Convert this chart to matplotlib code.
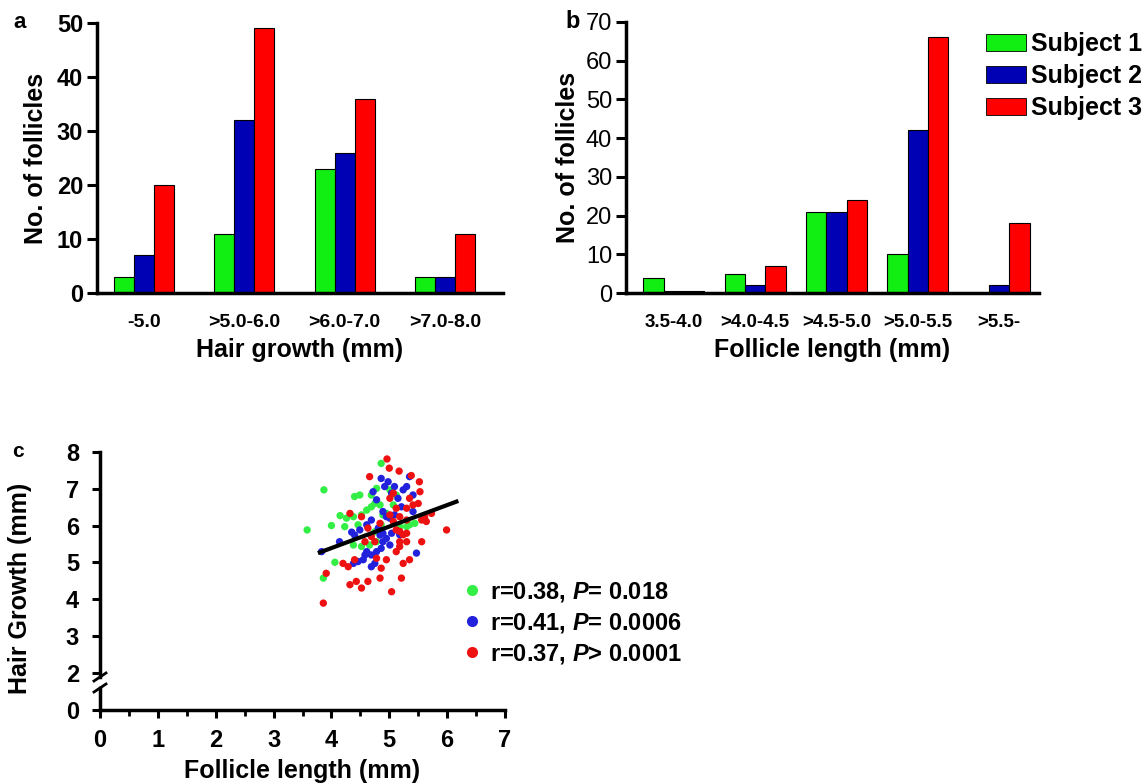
import numpy as np
import matplotlib
matplotlib.use("Agg")
import matplotlib.pyplot as plt
from matplotlib.patches import Patch
from matplotlib.lines import Line2D
from matplotlib.ticker import MultipleLocator

plt.rcParams['font.family'] = ['Liberation Sans', 'DejaVu Sans']
plt.rcParams['mathtext.fontset'] = 'custom'
plt.rcParams['mathtext.rm'] = 'Liberation Sans:bold'
plt.rcParams['mathtext.it'] = 'Liberation Sans:bold:italic'

# ---- data ----
subjects = ['Subject 1', 'Subject 2', 'Subject 3']
bar_colors = ['#11ee11', '#0000b4', '#ff0000']
dot_colors = ['#33ee44', '#2222dd', '#ee1111']

growth_bins = ['-5.0', '>5.0-6.0', '>6.0-7.0', '>7.0-8.0']
growth_s1 = [3, 11, 23, 3]
growth_s2 = [7, 32, 26, 3]
growth_s3 = [20, 49, 36, 11]

length_bins = ['3.5-4.0', '>4.0-4.5', '>4.5-5.0', '>5.0-5.5', '>5.5-']
length_s1 = [4, 5, 21, 10, 0]
length_s2 = [0.5, 2, 21, 42, 2]
length_s3 = [0.5, 7, 24, 66, 18]

# scatter points (follicle length, hair growth)
s1_x = [3.87, 3.58, 4.00, 4.15, 4.23, 4.06, 3.86, 4.40, 4.49, 4.38, 4.52, 4.61,
        4.69, 4.78, 4.86, 4.75, 4.69, 4.84, 4.89, 4.95, 5.01, 4.86, 4.78, 4.66,
        4.52, 4.38, 5.18, 5.30, 5.35, 5.44, 5.12, 5.07, 4.75, 4.26, 4.46]
s1_y = [6.97, 5.88, 6.00, 6.27, 5.97, 5.00, 4.57, 6.79, 6.83, 6.24, 6.29, 6.42,
        6.83, 7.01, 7.69, 6.60, 6.51, 6.56, 6.29, 6.33, 6.97, 6.02, 5.56, 5.47,
        5.43, 5.47, 5.97, 5.97, 6.02, 6.06, 6.83, 6.56, 5.83, 6.20, 6.02]
s2_x = [3.83, 4.14, 4.35, 4.49, 4.40, 4.61, 4.69, 4.72, 4.78, 4.86, 4.92, 4.98,
        5.04, 5.09, 5.15, 5.21, 5.24, 5.30, 5.35, 5.41, 4.89, 4.95, 5.01, 5.09,
        4.81, 4.84, 4.89, 4.95, 5.01, 4.86, 4.78, 4.69, 4.61, 4.55, 4.46, 4.38,
        4.69, 4.75, 4.89, 5.04, 5.18, 5.47, 5.41, 4.58]
s2_y = [5.29, 5.56, 5.82, 5.88, 5.74, 6.02, 6.15, 6.92, 6.70, 7.28, 7.06, 7.19,
        6.88, 7.06, 6.74, 6.51, 6.97, 7.06, 7.33, 6.83, 6.38, 6.24, 6.20, 6.29,
        5.93, 5.74, 5.56, 5.65, 5.47, 5.38, 5.29, 5.20, 5.29, 5.07, 5.02, 4.97,
        4.88, 4.97, 5.79, 5.79, 5.75, 5.25, 6.38, 5.20]
s3_x = [4.96, 5.00, 5.17, 5.38, 5.52, 4.66, 4.32, 4.20, 4.29, 4.40, 4.52, 4.63,
        4.69, 4.75, 4.84, 5.01, 5.07, 5.12, 5.18, 5.24, 5.30, 5.30, 5.18, 5.18,
        5.12, 4.95, 4.86, 4.84, 4.78, 4.63, 4.52, 4.32, 4.43, 3.86, 3.91, 5.04,
        5.21, 5.18, 5.30, 5.41, 5.50, 5.56, 5.61, 5.64, 5.73, 5.99, 5.56, 5.35,
        5.24, 5.07, 5.01, 5.53, 5.35, 5.12, 5.30, 4.58]
s3_y = [7.81, 7.56, 7.48, 7.36, 7.19, 7.33, 6.33, 4.97, 4.88, 5.07, 6.24, 5.93,
        5.70, 5.56, 6.06, 6.29, 6.11, 5.88, 5.84, 5.75, 5.79, 5.56, 5.56, 5.43,
        5.29, 5.07, 4.84, 4.57, 5.11, 4.48, 4.30, 4.39, 4.48, 3.89, 4.70, 4.20,
        4.57, 6.24, 6.15, 6.56, 6.60, 6.15, 6.24, 6.11, 6.33, 5.88, 5.56, 5.07,
        4.97, 6.88, 6.74, 6.92, 6.74, 6.47, 6.47, 5.56]
fit_x = [3.80, 6.16]
fit_y = [5.27, 6.65]
stats_labels = [r'r=0.38, $P$= 0.018', r'r=0.41, $P$= 0.0006', r'r=0.37, $P$> 0.0001']

W, H = 1148, 783
fig = plt.figure(figsize=(W / 100, H / 100), dpi=100)


def box(l, t, r, b):
    return [l / W, 1 - b / H, (r - l) / W, (b - t) / H]


def style_bar_axes(ax):
    for s in ['top', 'right']:
        ax.spines[s].set_visible(False)
    for s in ['left', 'bottom']:
        ax.spines[s].set_linewidth(2.5)
    ax.tick_params(axis='y', direction='out', length=7, width=2.2, pad=3)
    ax.tick_params(axis='x', length=0, pad=15)


# ---- panel a ----
ax_a = fig.add_axes(box(97, 23, 503, 293))
xa = np.arange(len(growth_bins))
wa = 0.2
for i, vals in enumerate([growth_s1, growth_s2, growth_s3]):
    ax_a.bar(xa + (i - 1) * wa, vals, wa, color=bar_colors[i], edgecolor='black', linewidth=0.8)
ax_a.set_xlim(-0.47, 3.58)
ax_a.set_ylim(0, 50)
ax_a.set_yticks(range(0, 51, 10))
ax_a.set_xticks(xa)
ax_a.set_xticklabels(growth_bins, fontsize=14, fontweight='bold')
ax_a.set_yticklabels([str(v) for v in range(0, 51, 10)], fontsize=17, fontweight='bold')
style_bar_axes(ax_a)
ax_a.set_xlabel('Hair growth (mm)', fontsize=18, fontweight='bold', labelpad=5)
ax_a.set_ylabel('No. of follicles', fontsize=18, fontweight='bold', labelpad=6)
fig.text(20 / W, 1 - 22 / H, 'a', fontsize=16, fontweight='bold', ha='center', va='center')

# ---- panel b ----
ax_b = fig.add_axes(box(626, 22, 1039, 293))
xb = np.arange(len(length_bins))
wb = 0.25
for i, vals in enumerate([length_s1, length_s2, length_s3]):
    ax_b.bar(xb + (i - 1) * wb, vals, wb, color=bar_colors[i], edgecolor='black', linewidth=0.8)
ax_b.set_xlim(-0.59, 4.49)
ax_b.set_ylim(0, 70)
ax_b.set_yticks(range(0, 71, 10))
ax_b.set_xticks(xb)
ax_b.set_xticklabels(length_bins, fontsize=13.5, fontweight='bold')
ax_b.set_yticklabels([str(v) for v in range(0, 71, 10)], fontsize=17)
style_bar_axes(ax_b)
ax_b.set_xlabel('Follicle length (mm)', fontsize=18, fontweight='bold', labelpad=5)
ax_b.set_ylabel('No. of follicles', fontsize=18, fontweight='bold', labelpad=4)
fig.text(573 / W, 1 - 22 / H, 'b', fontsize=17, fontweight='bold', ha='center', va='center')

handles = [Patch(facecolor=c, edgecolor='black', linewidth=0.6) for c in bar_colors]
fig.legend(handles, subjects, loc='upper left', bbox_to_anchor=(986 / W, 1 - 32 / H),
           frameon=False, prop={'size': 18, 'weight': 'bold'}, handlelength=1.6,
           handleheight=0.7, handletextpad=0.2, labelspacing=0.32, borderpad=0,
           borderaxespad=0)

# ---- panel c (broken y axis) ----
ax_c = fig.add_axes(box(100, 452, 505, 677))
ax_c0 = fig.add_axes(box(100, 688, 505, 710))
for i, (px, py) in enumerate([(s1_x, s1_y), (s2_x, s2_y), (s3_x, s3_y)]):
    ax_c.scatter(px, py, s=28, color=dot_colors[i], edgecolors='none', zorder=3)
ax_c.plot(fit_x, fit_y, color='black', linewidth=3, zorder=4)
ax_c.set_xlim(0, 7)
ax_c.set_ylim(1.88, 8)
ax_c.set_yticks(range(2, 9))
ax_c.set_yticklabels([str(v) for v in range(2, 9)], fontsize=17, fontweight='bold')
for s in ['top', 'right', 'bottom']:
    ax_c.spines[s].set_visible(False)
ax_c.spines['left'].set_linewidth(2.5)
ax_c.tick_params(axis='y', direction='out', length=6, width=2.2, pad=9)
ax_c.tick_params(axis='x', bottom=False, labelbottom=False)
ax_c.patch.set_visible(False)

ax_c0.set_xlim(0, 7)
ax_c0.set_ylim(0, 0.6)
ax_c0.set_yticks([0])
ax_c0.set_yticklabels(['0'], fontsize=17, fontweight='bold')
ax_c0.set_xticks(range(0, 8))
ax_c0.set_xticklabels([str(v) for v in range(0, 8)], fontsize=17, fontweight='bold')
ax_c0.xaxis.set_minor_locator(MultipleLocator(0.5))
for s in ['top', 'right']:
    ax_c0.spines[s].set_visible(False)
for s in ['left', 'bottom']:
    ax_c0.spines[s].set_linewidth(2.5)
ax_c0.tick_params(axis='y', which='major', direction='out', length=6, width=2.2, pad=9)
ax_c0.tick_params(axis='x', which='major', direction='out', length=6, width=2.2, pad=8)
ax_c0.tick_params(axis='x', which='minor', direction='out', length=4, width=2)
ax_c0.patch.set_visible(False)
ax_c0.set_xlabel('Follicle length (mm)', fontsize=18, fontweight='bold', labelpad=5)

# break marks on the y axis
for yb in [677, 688]:
    fig.add_artist(Line2D([94 / W, 106 / W], [1 - (yb + 4) / H, 1 - (yb - 4) / H],
                          color='black', linewidth=2))

fig.text(20 / W, 1 - 588 / H, 'Hair Growth (mm)', fontsize=18, fontweight='bold',
         rotation=90, ha='center', va='center')
fig.text(18 / W, 1 - 452 / H, 'c', fontsize=15, fontweight='bold', ha='center', va='center')

dot_handles = [Line2D([], [], linestyle='none', marker='o', markersize=8,
                      markerfacecolor=c, markeredgecolor='none') for c in dot_colors]
fig.legend(dot_handles, stats_labels, loc='upper left', bbox_to_anchor=(464 / W, 1 - 580 / H),
           frameon=False, prop={'size': 17, 'weight': 'bold'}, handlelength=0.7,
           handletextpad=0.4, labelspacing=0.3, borderpad=0, borderaxespad=0)

fig.savefig('out.png', dpi=100)
